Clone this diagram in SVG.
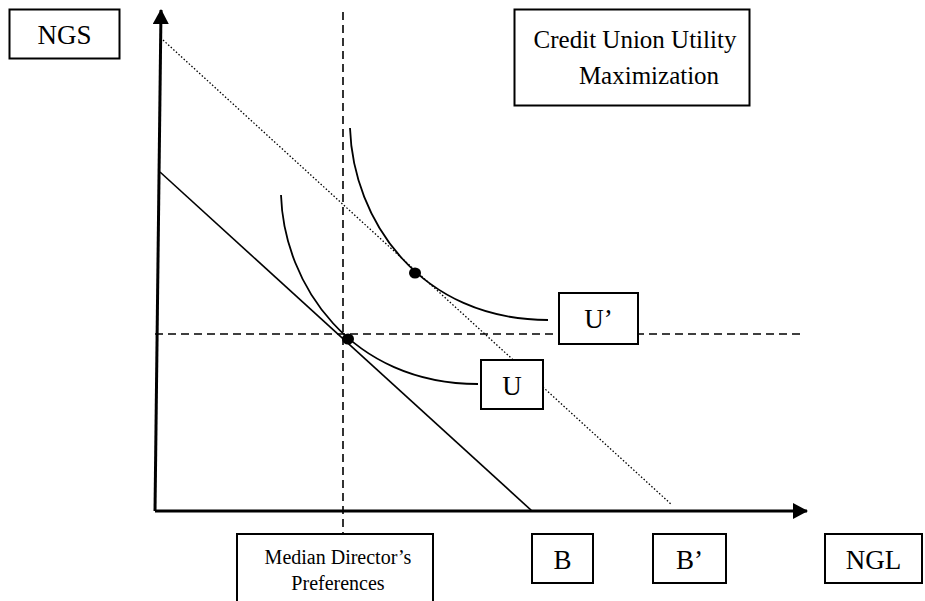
<svg xmlns="http://www.w3.org/2000/svg" width="925" height="601" viewBox="0 0 925 601">
  <style>
    .box { fill: #fff; stroke: #000; stroke-width: 2; }
    .lbl { font-family: "Liberation Serif", "Times New Roman", serif; font-size: 25px; fill: #000; text-anchor: middle; }
    .big { font-size: 27px; }
    .small { font-size: 20px; }
    .axis { stroke: #000; stroke-width: 3; fill: none; }
    .guide { stroke: #000; stroke-width: 1.6; stroke-dasharray: 8 5; fill: none; }
    .budget { stroke: #000; stroke-width: 1.6; fill: none; }
    .budget2 { stroke: #000; stroke-width: 1.3; stroke-dasharray: 1.5 2; fill: none; }
    .curve { stroke: #000; stroke-width: 1.8; fill: none; }
  </style>
  <defs>
    <marker id="arrow" markerWidth="16" markerHeight="16" refX="14" refY="8" orient="auto" markerUnits="userSpaceOnUse">
      <path d="M0,0 L15,8 L0,16 Z" fill="#000"/>
    </marker>
  </defs>

  <rect width="925" height="601" fill="#fff"/>

  <g id="connectors">
    <!-- reference lines at the median director's optimum -->
    <line class="guide" x1="343" y1="12" x2="343" y2="534"/>
    <line class="guide" x1="155" y1="334" x2="803" y2="334"/>
    <!-- budget lines -->
    <line class="budget2" x1="163" y1="40" x2="672" y2="505"/>
    <line class="budget" x1="160" y1="172" x2="532" y2="511"/>
    <!-- indifference curves -->
    <path class="curve" d="M350,128 C353,220 420,320 548,320"/>
    <path class="curve" d="M281,195 C284,285 351,384 478,384"/>
    <!-- axes -->
    <line class="axis" x1="155" y1="511" x2="161" y2="10" marker-end="url(#arrow)"/>
    <line class="axis" x1="155" y1="511" x2="807" y2="511" marker-end="url(#arrow)"/>
    <!-- optimum points -->
    <ellipse cx="415" cy="273" rx="6" ry="5.5" fill="#000"/>
    <ellipse cx="348" cy="339" rx="6" ry="5.5" fill="#000"/>
  </g>

  <g id="ngs">
    <rect class="box" x="9.5" y="9.5" width="110" height="49"/>
    <text class="lbl big" x="64.5" y="44">NGS</text>
  </g>

  <g id="title">
    <rect class="box" x="514.5" y="9.5" width="235" height="96"/>
    <text class="lbl" x="635" y="48">Credit Union Utility</text>
    <text class="lbl" x="649" y="84">Maximization</text>
  </g>

  <g id="u-prime">
    <rect class="box" x="559" y="293" width="79" height="51"/>
    <text class="lbl big" x="598.5" y="328">U’</text>
  </g>

  <g id="u">
    <rect class="box" x="481" y="360" width="62" height="49"/>
    <text class="lbl big" x="512" y="395">U</text>
  </g>

  <g id="median">
    <rect class="box" x="237" y="534" width="196" height="80"/>
    <text class="lbl small" x="338" y="564">Median Director’s</text>
    <text class="lbl small" x="338" y="590">Preferences</text>
  </g>

  <g id="b">
    <rect class="box" x="532" y="534" width="61" height="49"/>
    <text class="lbl big" x="562.5" y="569">B</text>
  </g>

  <g id="b-prime">
    <rect class="box" x="653" y="534" width="73" height="49"/>
    <text class="lbl big" x="689.5" y="569">B’</text>
  </g>

  <g id="ngl">
    <rect class="box" x="825" y="534" width="97" height="49"/>
    <text class="lbl big" x="873.5" y="569">NGL</text>
  </g>
</svg>
